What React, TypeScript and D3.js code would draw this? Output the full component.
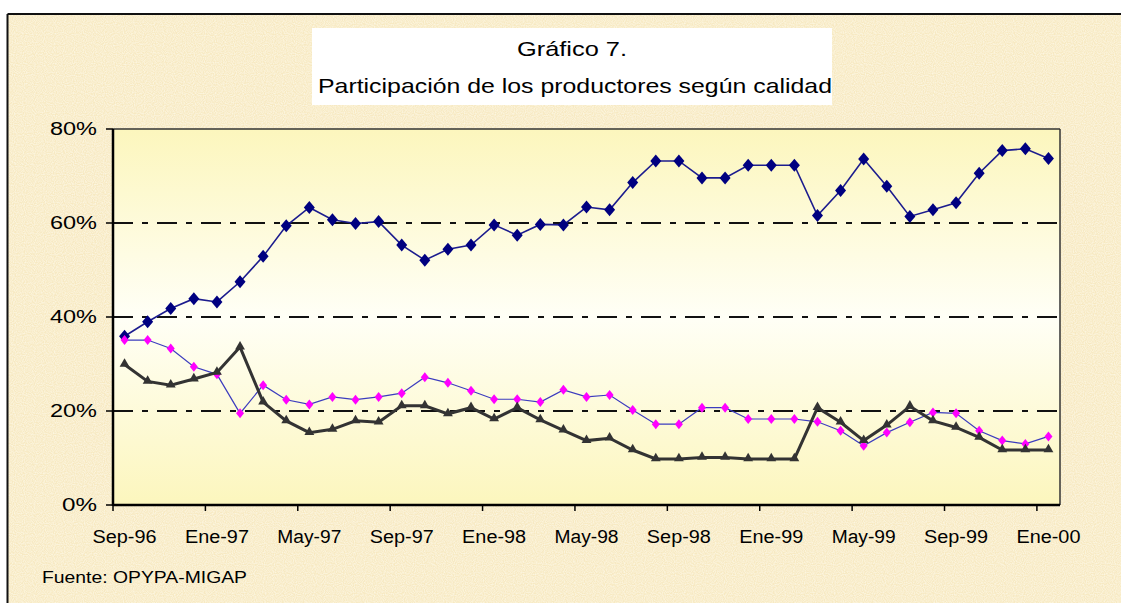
import React from "react";
import * as d3 from "d3";

const categories: string[] = [
  "Sep-96","Oct-96","Nov-96","Dic-96","Ene-97","Feb-97","Mar-97","Abr-97","May-97","Jun-97","Jul-97","Ago-97",
  "Sep-97","Oct-97","Nov-97","Dic-97","Ene-98","Feb-98","Mar-98","Abr-98","May-98","Jun-98","Jul-98","Ago-98",
  "Sep-98","Oct-98","Nov-98","Dic-98","Ene-99","Feb-99","Mar-99","Abr-99","May-99","Jun-99","Jul-99","Ago-99",
  "Sep-99","Oct-99","Nov-99","Dic-99","Ene-00"
];

const seriesBlue: number[] = [
  35.9, 39.0, 41.8, 43.9, 43.2, 47.5, 52.9, 59.4, 63.3, 60.7, 59.9, 60.3,
  55.3, 52.1, 54.4, 55.3, 59.6, 57.4, 59.7, 59.6, 63.4, 62.8, 68.6, 73.2,
  73.2, 69.6, 69.6, 72.3, 72.3, 72.3, 61.6, 66.9, 73.6, 67.8, 61.4, 62.8,
  64.3, 70.6, 75.4, 75.8, 73.7
];
const seriesMagenta: number[] = [
  35.1, 35.1, 33.3, 29.4, 27.8, 19.5, 25.5, 22.4, 21.4, 23.0, 22.4, 23.0,
  23.8, 27.2, 26.0, 24.3, 22.5, 22.5, 21.9, 24.5, 23.0, 23.4, 20.2, 17.2,
  17.2, 20.7, 20.7, 18.3, 18.3, 18.3, 17.7, 15.8, 12.6, 15.4, 17.6, 19.7,
  19.5, 15.8, 13.7, 13.0, 14.6
];
const seriesBlack: number[] = [
  29.9, 26.3, 25.5, 26.8, 28.2, 33.6, 21.9, 17.9, 15.4, 16.1, 17.9, 17.6,
  21.1, 21.1, 19.4, 20.7, 18.3, 20.7, 18.1, 15.9, 13.7, 14.2, 11.7, 9.8,
  9.8, 10.1, 10.1, 9.8, 9.8, 9.8, 20.7, 17.6, 13.7, 17.0, 21.0, 17.9,
  16.5, 14.4, 11.7, 11.7, 11.7
];
const yTicks: number[] = [0, 20, 40, 60, 80];
const gridValues: number[] = [20, 40, 60];
const xTickLabels: string[] = ["Sep-96","Ene-97","May-97","Sep-97","Ene-98","May-98","Sep-98","Ene-99","May-99","Sep-99","Ene-00"];
const titleLine1 = "Gráfico 7.";
const titleLine2 = "Participación de los productores según calidad";
const sourceText = "Fuente: OPYPA-MIGAP";

const W = 1121;
const H = 603;
const plotLeft = 113;
const plotRight = 1060;
const plotTop = 129;
const plotBottom = 505;
const FONT = "'Liberation Sans', Arial, sans-serif";

function diamond(cx: number, cy: number, w: number, h: number): string {
  return `M${cx},${cy - h}L${cx + w},${cy}L${cx},${cy + h}L${cx - w},${cy}Z`;
}

export default function App() {
  const idx = categories.map((_, i) => i);
  const x = d3.scaleBand<number>().domain(idx).range([plotLeft, plotRight]).padding(0);
  const bw = x.bandwidth();
  const cx = (i: number) => (x(i) as number) + bw / 2;
  const y = d3.scaleLinear().domain([0, 80]).range([plotBottom, plotTop]);

  const line = d3.line<number>().x((_, i) => cx(i)).y((d) => y(d));
  const tri = d3.symbol().type(d3.symbolTriangle).size(42);

  const tickIdx = xTickLabels.map((l) => categories.indexOf(l));
  const tickMarks = d3.range(0, categories.length + 1, 4).map((i) => plotLeft + i * bw);

  return (
    <svg width={W} height={H} style={{ position: "absolute", left: 0, top: 0 }}>
      <defs>
        <filter id="tex" x="0" y="0" width="100%" height="100%">
          <feTurbulence type="fractalNoise" baseFrequency="0.9" numOctaves={1} seed={3} result="n" />
          <feColorMatrix in="n" type="matrix"
            values="0 0 0 0 0.99  0 0 0 0 0.95  0 0 0 0 0.8  0 0 0 -1.6 1.1" result="c" />
          <feComposite in="c" in2="SourceGraphic" operator="over" />
        </filter>
        <linearGradient id="plotGrad" x1="0" y1="0" x2="0" y2="1">
          <stop offset="0" stopColor="#fcf6bd" />
          <stop offset="0.5" stopColor="#fffff6" />
          <stop offset="1" stopColor="#fcf6bd" />
        </linearGradient>
      </defs>
      <rect x={0} y={0} width={W} height={H} fill="#ffffff" />
      <rect x={7} y={14} width={W} height={H} fill="#f7e9c2" filter="url(#tex)" />
      <line x1={7.5} y1={14} x2={W} y2={14} stroke="#111" strokeWidth={2} />
      <line x1={7.5} y1={14} x2={7.5} y2={H} stroke="#111" strokeWidth={2} />

      {/* title */}
      <rect x={312} y={28} width={520} height={77} fill="#ffffff" />
      <text x={572} y={56} textAnchor="middle" fontFamily={FONT} fontSize={21}
        textLength={110} lengthAdjust="spacingAndGlyphs" fill="#000">{titleLine1}</text>
      <text x={575} y={93} textAnchor="middle" fontFamily={FONT} fontSize={21}
        textLength={514} lengthAdjust="spacingAndGlyphs" fill="#000">{titleLine2}</text>

      {/* plot area */}
      <rect x={plotLeft} y={plotTop} width={plotRight - plotLeft} height={plotBottom - plotTop} fill="url(#plotGrad)" />
      {gridValues.map((v) => (
        <line key={v} x1={plotLeft} x2={plotRight} y1={y(v)} y2={y(v)} stroke="#111" strokeWidth={1.8}
          strokeDasharray="20,9,6,9" />
      ))}
      <line x1={plotLeft} x2={plotRight} y1={plotTop} y2={plotTop} stroke="#333" strokeWidth={1.5} />
      <line x1={plotRight} x2={plotRight} y1={plotTop} y2={plotBottom} stroke="#333" strokeWidth={1.5} />

      {/* series */}
      <path d={line(seriesBlue) || ""} fill="none" stroke="#1c1c8e" strokeWidth={1.6} />
      {seriesBlue.map((v, i) => (
        <path key={"b" + i} d={diamond(cx(i), y(v), 5.5, 6.5)} fill="#000080" />
      ))}
      <path d={line(seriesMagenta) || ""} fill="none" stroke="#3c3cbe" strokeWidth={1.2} />
      {seriesMagenta.map((v, i) => (
        <path key={"m" + i} d={diamond(cx(i), y(v), 4, 5)} fill="#ff00ff" />
      ))}
      <path d={line(seriesBlack) || ""} fill="none" stroke="#333333" strokeWidth={3} />
      {seriesBlack.map((v, i) => (
        <path key={"k" + i} d={tri() || ""} transform={`translate(${cx(i)},${y(v) - 0.5})`} fill="#333333" />
      ))}

      {/* axes */}
      <line x1={plotLeft} x2={plotLeft} y1={plotTop} y2={plotBottom + 1} stroke="#000" strokeWidth={2.5} />
      <line x1={plotLeft} x2={plotRight} y1={plotBottom} y2={plotBottom} stroke="#000" strokeWidth={2.5} />
      {yTicks.map((t) => (
        <g key={"yt" + t}>
          <line x1={plotLeft - 7} x2={plotLeft} y1={y(t)} y2={y(t)} stroke="#000" strokeWidth={1.5} />
          <text x={97} y={y(t) + 6} textAnchor="end" fontFamily={FONT} fontSize={18}
            textLength={t === 0 ? 35 : 47} lengthAdjust="spacingAndGlyphs" fill="#000">{`${t}%`}</text>
        </g>
      ))}
      {tickMarks.map((tx, i) => (
        <line key={"xt" + i} x1={tx} x2={tx} y1={plotBottom} y2={plotBottom + 6} stroke="#000" strokeWidth={1.5} />
      ))}
      {xTickLabels.map((l, i) => (
        <text key={"xl" + l} x={cx(tickIdx[i])} y={543} textAnchor="middle" fontFamily={FONT} fontSize={18}
          textLength={64} lengthAdjust="spacingAndGlyphs" fill="#000">{l}</text>
      ))}

      <text x={42} y={583} fontFamily={FONT} fontSize={17} textLength={205} lengthAdjust="spacingAndGlyphs"
        fill="#000">{sourceText}</text>
    </svg>
  );
}
